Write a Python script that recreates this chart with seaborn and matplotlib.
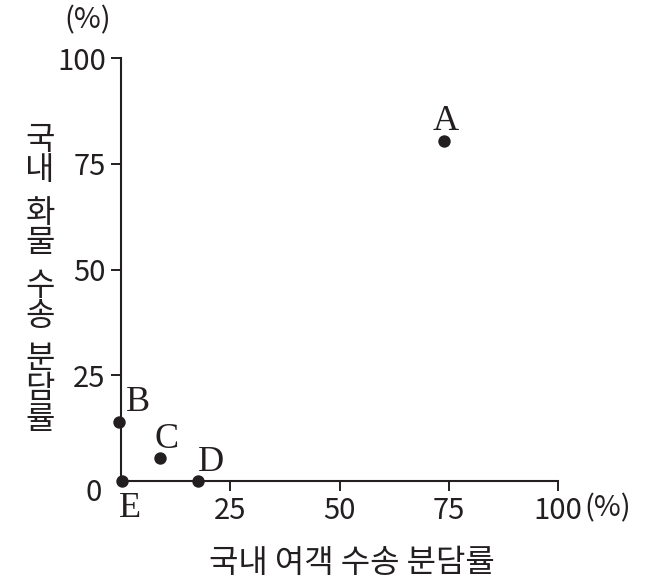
import matplotlib
matplotlib.use("Agg")
import matplotlib.pyplot as plt
import seaborn as sns
import pandas as pd

# 국내 수송 분담률 (%)
labels = ["A", "B", "C", "D", "E"]
passenger_share = [73.8, -0.5, 8.9, 17.7, 0.2]
freight_share = [80.4, 13.9, 5.4, 0.0, 0.0]
ticks = [25, 50, 75, 100]

df = pd.DataFrame({"label": labels, "x": passenger_share, "y": freight_share})

sns.set_style("ticks")
plt.rcParams["font.family"] = ["Noto Sans CJK KR", "DejaVu Sans"]
ink = "#231f20"
num_size = 21
kor_size = 23

fig = plt.figure(figsize=(6.7, 5.86), dpi=100)
ax = fig.add_axes([121 / 670, 1 - 481 / 586, 437 / 670, 423 / 586])

sns.scatterplot(data=df, x="x", y="y", ax=ax, s=80, color=ink,
                edgecolor=ink, linewidth=0, clip_on=False, zorder=5)

# 점 라벨 (세리프체)
offsets = [(2, 11), (19, 11), (7, 10), (13, 10), (8, -36)]
for (_, r), off in zip(df.iterrows(), offsets):
    ax.annotate(r["label"], (r["x"], r["y"]), xytext=off,
                textcoords="offset pixels", ha="center", va="baseline",
                fontsize=26, family="Liberation Serif",
                color=ink, annotation_clip=False)

ax.set_xlim(0, 100)
ax.set_ylim(0, 100)
ax.set_xticks(ticks)
ax.set_yticks(ticks)
ax.set_xticklabels([str(t) for t in ticks], fontsize=num_size, color=ink)
ax.set_yticklabels([str(t) for t in ticks], fontsize=num_size, color=ink)
ax.tick_params(length=7, width=1.4, color=ink, pad=4)
for side in ["top", "right"]:
    ax.spines[side].set_visible(False)
for side in ["left", "bottom"]:
    ax.spines[side].set_linewidth(1.5)
    ax.spines[side].set_color(ink)
ax.set_xlabel("")
ax.set_ylabel("")

# 원점과 단위
fig.text(94 / 670, 1 - 493 / 586, "0", fontsize=num_size, color=ink,
         ha="center", va="center")
fig.text(584 / 670, 1 - 508 / 586, "(%)", fontsize=num_size, color=ink,
         ha="left", va="center")
fig.text(88 / 670, 1 - 20 / 586, "(%)", fontsize=num_size, color=ink,
         ha="center", va="center")

# 축 제목
fig.text(352 / 670, 1 - 563 / 586, "국내 여객 수송 분담률", fontsize=kor_size,
         color=ink, ha="center", va="center")

y_words = ["국내", "화물", "수송", "분담률"]
ypos = 140
for word in y_words:
    for ch in word:
        fig.text(40 / 670, 1 - ypos / 586, ch, fontsize=kor_size, color=ink,
                 ha="center", va="center")
        ypos += 30.5
    ypos += 12

fig.savefig("out.png", dpi=100)
